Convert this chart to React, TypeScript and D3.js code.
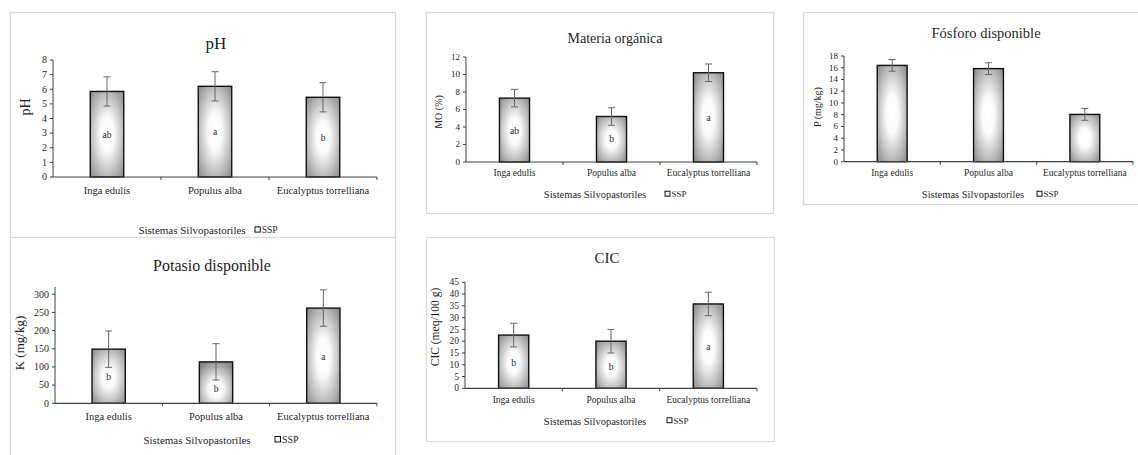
import React from "react";
import * as d3 from "d3";

const categories = ["Inga edulis", "Populus alba", "Eucalyptus torrelliana"];

const phValues = [5.85, 6.2, 5.45];
const phErrors = [1, 1, 1];
const phLetters = ["ab", "a", "b"];
const phLetterAt = [2.9, 3.1, 2.7];

const moValues = [7.3, 5.2, 10.2];
const moErrors = [1, 1, 1];
const moLetters = ["ab", "b", "a"];
const moLetterAt = [3.6, 2.6, 5.1];

const pValues = [16.4, 15.85, 8.05];
const pErrors = [1, 1, 1];
const pLetters = ["", "", ""];
const pLetterAt = [8.2, 7.9, 4.0];

const kValues = [149, 114, 262];
const kErrors = [50, 50, 50];
const kLetters = ["b", "b", "a"];
const kLetterAt = [73, 39, 127];

const cicValues = [22.6, 20, 35.8];
const cicErrors = [5, 5, 5];
const cicLetters = ["b", "b", "a"];
const cicLetterAt = [11, 9.3, 17.5];

const phTicks = [0, 1, 2, 3, 4, 5, 6, 7, 8];
const moTicks = [0, 2, 4, 6, 8, 10, 12];
const pTicks = [0, 2, 4, 6, 8, 10, 12, 14, 16, 18];
const kTicks = [0, 50, 100, 150, 200, 250, 300];
const cicTicks = [0, 5, 10, 15, 20, 25, 30, 35, 40, 45];

const FONT = "'Times New Roman', 'Liberation Serif', serif";
const TEXT = "#1f1f1f";

type PanelProps = {
  id: string;
  box: { x: number; y: number; w: number; h: number };
  plot: { left: number; right: number; top: number; bottom: number };
  domainMax: number;
  ticks: number[];
  values: number[];
  errors: number[];
  letters: string[];
  letterAt: number[];
  title: string;
  titleX: number;
  titleY: number;
  titleSize: number;
  yLabel: string;
  yLabelX: number;
  yLabelY: number;
  yLabelSize: number;
  tickSize: number;
  catY: number;
  catSize: number;
  xTitleX: number;
  xTitleY: number;
  xTitleSize: number;
  legendX: number;
  legendSize: number;
};

function Panel(p: PanelProps) {
  const x = d3.scaleBand<string>().domain(categories).range([p.plot.left, p.plot.right]).padding(0);
  const y = d3.scaleLinear().domain([0, p.domainMax]).range([p.plot.bottom, p.plot.top]);
  const bw = x.bandwidth() * 0.31;
  const boundaries = categories.map((c) => (x(c) as number) + x.bandwidth());
  return (
    <g>
      <rect x={p.box.x + 0.5} y={p.box.y + 0.5} width={p.box.w} height={p.box.h} fill="#fff" stroke="#d9d9d9" strokeWidth={1.2} />
      <defs>
        {categories.map((c, i) => {
          const top = y(p.values[i]);
          const h = y(0) - top;
          const cy = (y(p.letterAt[i]) - top) / h;
          return (
            <radialGradient key={c} id={`${p.id}-g${i}`} cx={0.5} cy={cy} r={0.72} fx={0.5} fy={cy}>
              <stop offset="0" stopColor="#ffffff" />
              <stop offset="0.28" stopColor="#fbfbfb" />
              <stop offset="1" stopColor="#848484" />
            </radialGradient>
          );
        })}
      </defs>
      <text x={p.titleX} y={p.titleY} textAnchor="middle" fontSize={p.titleSize} fontFamily={FONT} fill={TEXT}>{p.title}</text>
      <line x1={p.plot.left} x2={p.plot.left} y1={y(p.domainMax)} y2={y(0)} stroke="#404040" strokeWidth={1} />
      {p.ticks.map((t) => (
        <g key={t}>
          <line x1={p.plot.left - 3} x2={p.plot.left} y1={y(t)} y2={y(t)} stroke="#404040" strokeWidth={1} />
          <text x={p.plot.left - 6} y={y(t)} dy="0.33em" textAnchor="end" fontSize={p.tickSize} fontFamily={FONT} fill={TEXT}>{t}</text>
        </g>
      ))}
      <text transform={`translate(${p.yLabelX},${p.yLabelY}) rotate(-90)`} textAnchor="middle" dy="0.33em" fontSize={p.yLabelSize} fontFamily={FONT} fill={TEXT}>{p.yLabel}</text>
      {categories.map((c, i) => {
        const cx = (x(c) as number) + x.bandwidth() / 2;
        const top = y(p.values[i]);
        const hi = y(p.values[i] + p.errors[i]);
        const lo = y(p.values[i] - p.errors[i]);
        return (
          <g key={c}>
            <rect x={cx - bw / 2} y={top} width={bw} height={y(0) - top} fill={`url(#${p.id}-g${i})`} stroke="#111" strokeWidth={1.4} />
            {p.letters[i] ? (
              <text x={cx} y={y(p.letterAt[i])} dy="0.33em" textAnchor="middle" fontSize={9.5} fontFamily={FONT} fill={TEXT}>{p.letters[i]}</text>
            ) : null}
            <line x1={cx} x2={cx} y1={lo} y2={hi} stroke="#666" strokeWidth={1} />
            <line x1={cx - 3.5} x2={cx + 3.5} y1={hi} y2={hi} stroke="#666" strokeWidth={1} />
            <line x1={cx - 3.5} x2={cx + 3.5} y1={lo} y2={lo} stroke="#666" strokeWidth={1} />
            <text x={cx} y={p.catY} textAnchor="middle" fontSize={p.catSize} fontFamily={FONT} fill={TEXT}>{c}</text>
          </g>
        );
      })}
      <line x1={p.plot.left} x2={p.plot.right} y1={y(0)} y2={y(0)} stroke="#404040" strokeWidth={1.2} />
      {boundaries.map((b, i) => (
        <line key={i} x1={b} x2={b} y1={y(0)} y2={y(0) + 3} stroke="#404040" strokeWidth={1} />
      ))}
      <text x={p.xTitleX} y={p.xTitleY} textAnchor="middle" fontSize={p.xTitleSize} fontFamily={FONT} fill={TEXT}>Sistemas Silvopastoriles</text>
      <rect x={p.legendX} y={p.xTitleY - p.legendSize * 0.75} width={p.legendSize * 0.55} height={p.legendSize * 0.55} fill="#fff" stroke="#111" strokeWidth={1} />
      <text x={p.legendX + p.legendSize * 0.55 + 1.5} y={p.xTitleY - 1} fontSize={p.legendSize} fontFamily={FONT} fill={TEXT}>SSP</text>
    </g>
  );
}

export default function App() {
  return (
    <svg width={1138} height={455} style={{ position: "absolute", left: 0, top: 0, background: "#fff" }}>
      <rect x={0} y={0} width={1138} height={455} fill="#fff" />
      <Panel
        id="ph"
        box={{ x: 10, y: 12, w: 385, h: 225 }}
        plot={{ left: 53, right: 377, top: 60, bottom: 177 }}
        domainMax={8}
        ticks={phTicks}
        values={phValues}
        errors={phErrors}
        letters={phLetters}
        letterAt={phLetterAt}
        title="pH"
        titleX={216}
        titleY={49}
        titleSize={17}
        yLabel="pH"
        yLabelX={25}
        yLabelY={107}
        yLabelSize={14}
        tickSize={10}
        catY={194}
        catSize={10.5}
        xTitleX={192}
        xTitleY={234}
        xTitleSize={11}
        legendX={255}
        legendSize={9.5}
      />
      <Panel
        id="mo"
        box={{ x: 426, y: 12, w: 347, h: 201 }}
        plot={{ left: 466, right: 757, top: 57, bottom: 162 }}
        domainMax={12}
        ticks={moTicks}
        values={moValues}
        errors={moErrors}
        letters={moLetters}
        letterAt={moLetterAt}
        title="Materia orgánica"
        titleX={615}
        titleY={43}
        titleSize={14}
        yLabel="MO (%)"
        yLabelX={439}
        yLabelY={112}
        yLabelSize={10}
        tickSize={9}
        catY={176}
        catSize={9.5}
        xTitleX={595}
        xTitleY={198}
        xTitleSize={10.5}
        legendX={665}
        legendSize={9}
      />
      <Panel
        id="p"
        box={{ x: 803, y: 12, w: 345, h: 192 }}
        plot={{ left: 844, right: 1133, top: 56, bottom: 161.7 }}
        domainMax={18}
        ticks={pTicks}
        values={pValues}
        errors={pErrors}
        letters={pLetters}
        letterAt={pLetterAt}
        title="Fósforo disponible"
        titleX={986}
        titleY={38}
        titleSize={14.5}
        yLabel="P (mg/kg)"
        yLabelX={818}
        yLabelY={107}
        yLabelSize={10}
        tickSize={9}
        catY={176}
        catSize={9.5}
        xTitleX={973}
        xTitleY={198}
        xTitleSize={10.5}
        legendX={1037}
        legendSize={9}
      />
      <Panel
        id="k"
        box={{ x: 10, y: 237, w: 385, h: 240 }}
        plot={{ left: 55, right: 377, top: 287, bottom: 403.3 }}
        domainMax={320}
        ticks={kTicks}
        values={kValues}
        errors={kErrors}
        letters={kLetters}
        letterAt={kLetterAt}
        title="Potasio disponible"
        titleX={212}
        titleY={271}
        titleSize={16}
        yLabel="K (mg/kg)"
        yLabelX={20}
        yLabelY={343}
        yLabelSize={13}
        tickSize={10}
        catY={419.5}
        catSize={10.5}
        xTitleX={197}
        xTitleY={444}
        xTitleSize={11}
        legendX={275}
        legendSize={10}
      />
      <Panel
        id="cic"
        box={{ x: 426, y: 237, w: 348, h: 204 }}
        plot={{ left: 465, right: 757, top: 282.3, bottom: 388.3 }}
        domainMax={45}
        ticks={cicTicks}
        values={cicValues}
        errors={cicErrors}
        letters={cicLetters}
        letterAt={cicLetterAt}
        title="CIC"
        titleX={607}
        titleY={263}
        titleSize={15}
        yLabel="CIC (meq/100 g)"
        yLabelX={435}
        yLabelY={327}
        yLabelSize={11.5}
        tickSize={9.5}
        catY={402.5}
        catSize={9.5}
        xTitleX={595}
        xTitleY={424.5}
        xTitleSize={10.5}
        legendX={667}
        legendSize={9}
      />
    </svg>
  );
}
